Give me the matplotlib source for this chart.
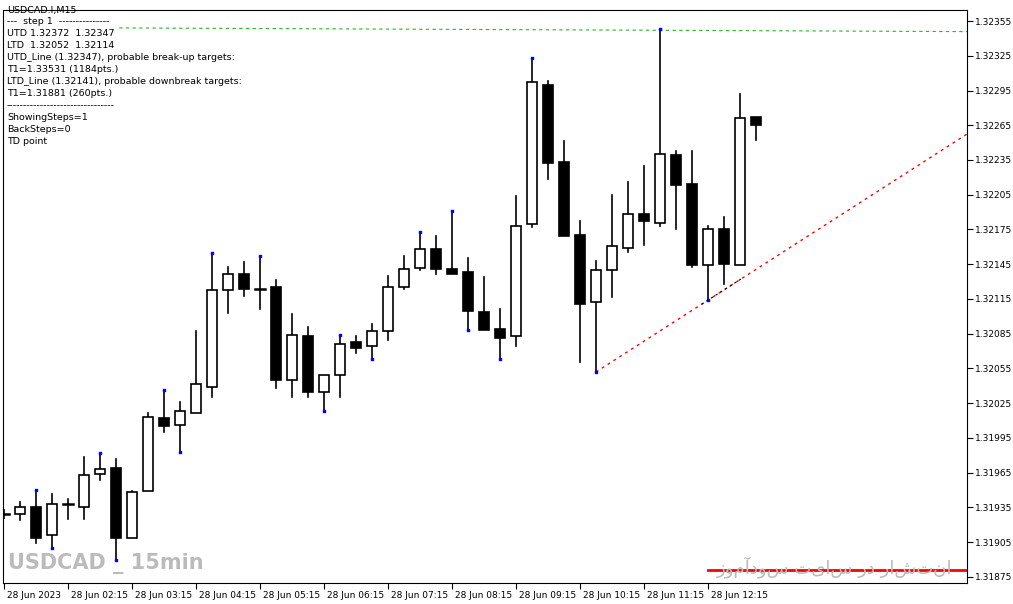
import matplotlib.pyplot as plt
import matplotlib.transforms as mtrans
import numpy as np

# USDCAD M15 candles, 28 Jun 2023
opens = [1.31929, 1.31929, 1.31935, 1.31911, 1.31938, 1.31935, 1.31964, 1.31969, 1.31909, 1.31949,
         1.32012, 1.32006, 1.32017, 1.32039, 1.32123, 1.32137, 1.32124, 1.32125, 1.32045, 1.32083,
         1.32035, 1.32049, 1.32078, 1.32074, 1.32087, 1.32125, 1.32142, 1.32158, 1.32141, 1.32138,
         1.32104, 1.32089, 1.32083, 1.32180, 1.32300, 1.32233, 1.32170, 1.32112, 1.32140, 1.32159,
         1.32188, 1.32181, 1.32239, 1.32214, 1.32144, 1.32175, 1.32144, 1.32272]
highs = [1.31933, 1.31940, 1.31950, 1.31947, 1.31942, 1.31979, 1.31982, 1.31977, 1.31949, 1.32017,
         1.32036, 1.32026, 1.32087, 1.32155, 1.32143, 1.32147, 1.32152, 1.32131, 1.32102, 1.32091,
         1.32049, 1.32084, 1.32083, 1.32093, 1.32135, 1.32152, 1.32173, 1.32169, 1.32191, 1.32150,
         1.32134, 1.32106, 1.32204, 1.32323, 1.32303, 1.32251, 1.32182, 1.32148, 1.32205, 1.32216,
         1.32230, 1.32348, 1.32243, 1.32243, 1.32178, 1.32186, 1.32292, 1.32272]
lows = [1.31926, 1.31924, 1.31904, 1.31900, 1.31925, 1.31925, 1.31959, 1.31890, 1.31909, 1.31949,
        1.32000, 1.31983, 1.32017, 1.32030, 1.32103, 1.32118, 1.32106, 1.32038, 1.32030, 1.32030,
        1.32018, 1.32030, 1.32068, 1.32063, 1.32080, 1.32124, 1.32140, 1.32137, 1.32137, 1.32088,
        1.32088, 1.32063, 1.32074, 1.32177, 1.32219, 1.32169, 1.32061, 1.32052, 1.32117, 1.32156,
        1.32162, 1.32178, 1.32175, 1.32143, 1.32114, 1.32128, 1.32144, 1.32252]
closes = [1.31929, 1.31935, 1.31909, 1.31938, 1.31938, 1.31963, 1.31968, 1.31909, 1.31948, 1.32013,
          1.32005, 1.32018, 1.32042, 1.32123, 1.32137, 1.32124, 1.32124, 1.32045, 1.32084, 1.32035,
          1.32049, 1.32076, 1.32073, 1.32087, 1.32125, 1.32141, 1.32158, 1.32141, 1.32137, 1.32105,
          1.32088, 1.32081, 1.32178, 1.32302, 1.32232, 1.32169, 1.32111, 1.32140, 1.32161, 1.32188,
          1.32182, 1.32240, 1.32213, 1.32144, 1.32175, 1.32145, 1.32271, 1.32265]

fractal_highs = [2, 6, 10, 13, 16, 21, 26, 28, 33, 41]
fractal_lows = [3, 7, 11, 20, 23, 29, 31, 37, 44]

ltd_points = ([37, 44], [1.32052, 1.32114])
utd_price = 1.32347
utd_bar = 41
target_down = 1.31881

price_ticks = [1.32355, 1.32325, 1.32295, 1.32265, 1.32235, 1.32205, 1.32175, 1.32145, 1.32115,
               1.32085, 1.32055, 1.32025, 1.31995, 1.31965, 1.31935, 1.31905, 1.31875]
time_labels = ["28 Jun 2023", "28 Jun 02:15", "28 Jun 03:15", "28 Jun 04:15", "28 Jun 05:15",
               "28 Jun 06:15", "28 Jun 07:15", "28 Jun 08:15", "28 Jun 09:15", "28 Jun 10:15",
               "28 Jun 11:15", "28 Jun 12:15"]
time_bars = [0, 4, 8, 12, 16, 20, 24, 28, 32, 36, 40, 44]

info_lines = ["USDCAD.I,M15", "---  step 1  ---------------", "UTD 1.32372  1.32347",
              "LTD  1.32052  1.32114", "UTD_Line (1.32347), probable break-up targets:",
              "T1=1.33531 (1184pts.)", "LTD_Line (1.32141), probable downbreak targets:",
              "T1=1.31881 (260pts.)", "--------------------------------",
              "ShowingSteps=1", "BackSteps=0", "TD point"]

W, H = 1013, 604
fig = plt.figure(figsize=(W / 100, H / 100), dpi=100)
ax = fig.add_axes([3 / W, (H - 583) / H, 964 / W, 573 / H])
x_right = (967 - 4) / 16
ax.set_xlim(-1 / 16, x_right)
ax.set_ylim(1.318698, 1.323645)

bw = 0.62
for i, (o, h, l, c) in enumerate(zip(opens, highs, lows, closes)):
    top, bot = max(o, c), min(o, c)
    ax.plot([i, i], [top, h], color='black', lw=1.2, zorder=2)
    ax.plot([i, i], [l, bot], color='black', lw=1.2, zorder=2)
    if abs(o - c) < 1e-6:
        ax.plot([i - bw / 2, i + bw / 2], [o, o], color='black', lw=1.8, zorder=3)
    else:
        fc = 'white' if c > o else 'black'
        ax.add_patch(plt.Rectangle((i - bw / 2, bot), bw, top - bot, facecolor=fc,
                                   edgecolor='black', lw=1.2, zorder=3))

ax.scatter(fractal_highs, [highs[i] for i in fractal_highs], s=4, color='blue', marker='s', zorder=4)
ax.scatter(fractal_lows, [lows[i] for i in fractal_lows], s=4, color='blue', marker='s', zorder=4)

# trend lines
bx, by = ltd_points
slope = (by[1] - by[0]) / (bx[1] - bx[0])
lx = np.array([bx[0], x_right])
ax.plot(lx, by[0] + slope * (lx - bx[0]), color='red', ls=(0, (2, 3)), lw=1, zorder=1)
sx = np.array([43.6, 46.2])
ax.plot(sx, by[0] + slope * (sx - bx[0]), color='black', ls=(0, (2, 3)), lw=0.8, zorder=1)

ux = np.array([7.2, x_right])
ax.plot(ux, utd_price - 6e-7 * (ux - utd_bar), color='#22bb22', ls=(0, (3, 3)), lw=0.8, zorder=1)
ax.plot([44, x_right], [target_down, target_down], color='red', lw=2, zorder=1)

ax.yaxis.tick_right()
ax.set_yticks(price_ticks)
ax.set_yticklabels([f"{p:.5f}" for p in price_ticks])
ax.set_xticks(time_bars)
ax.set_xticklabels(time_labels, ha='left')
ax.tick_params(axis='both', labelsize=6.5, length=4, width=0.8, direction='out', pad=2)
offset = mtrans.ScaledTranslation(3 / 100, 0, fig.dpi_scale_trans)
for lab in ax.get_xticklabels():
    lab.set_transform(lab.get_transform() + offset)
for sp in ax.spines.values():
    sp.set_linewidth(0.8)

for k, line in enumerate(info_lines):
    fig.text(7 / W, 1 - (10 + 12 * k) / H, line, fontsize=6.8, va='center', ha='left')

fig.text(8 / W, 1 - 564 / H, "USDCAD _ 15min", fontsize=15, fontweight='bold', color='#bbbbbb',
         va='center', ha='left')
fig.text(952 / W, 1 - 567 / H, "انتشار در سایت سودآموز"[::-1], fontsize=13, color='#bbbbbb',
         va='center', ha='right', family=['DejaVu Sans'])

fig.savefig("out.png", dpi=100)
